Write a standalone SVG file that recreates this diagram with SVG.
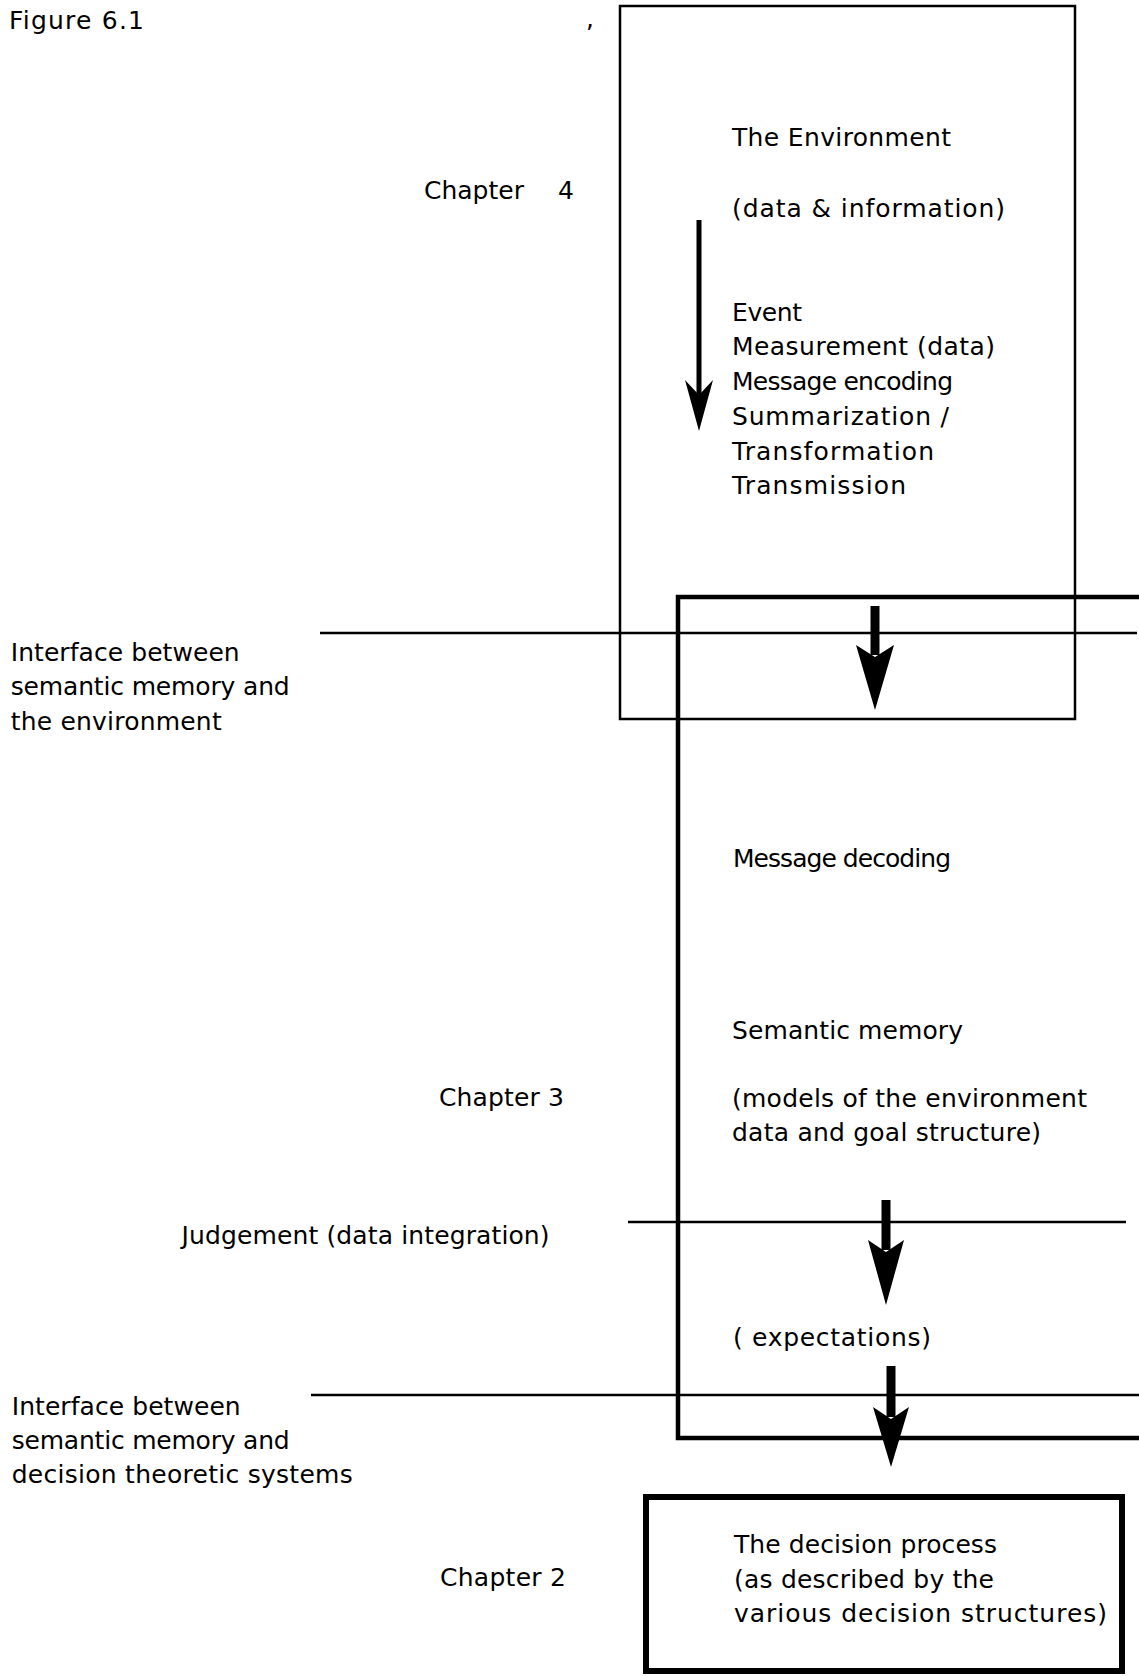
<svg xmlns="http://www.w3.org/2000/svg" width="1139" height="1676" viewBox="0 0 1139 1676">
<style>
  text { font-family: "DejaVu Sans", "Liberation Sans", sans-serif; font-size: 25px; fill: #000; }
  .thin { fill: none; stroke: #000; stroke-width: 2.5; }
  .thick { fill: none; stroke: #000; stroke-width: 4.5; }
  .heavy { fill: none; stroke: #000; stroke-width: 6; }
  .shaft { stroke: #000; }
  .head { fill: #000; stroke: none; }
</style>
<rect width="1139" height="1676" fill="#fff"/>

<g id="labels">
  <text x="9" y="29" textLength="135">Figure 6.1</text>
  <text x="586" y="27">,</text>
  <text x="424" y="199">Chapter<tspan x="558">4</tspan></text>
  <text x="10.7" y="661" textLength="229">Interface between</text>
  <text x="10.7" y="695" textLength="279">semantic memory and</text>
  <text x="10.7" y="730" textLength="211">the environment</text>
  <text x="439" y="1106" textLength="125">Chapter 3</text>
  <text x="181.6" y="1244" textLength="368">Judgement (data integration)</text>
  <text x="11.7" y="1415" textLength="229">Interface between</text>
  <text x="11.7" y="1449" textLength="278">semantic memory and</text>
  <text x="11.7" y="1483" textLength="341">decision theoretic systems</text>
  <text x="440" y="1586" textLength="126">Chapter 2</text>
</g>

<g id="environment">
  <rect class="thin" x="620" y="6" width="455" height="713"/>
  <text x="732" y="146" textLength="219">The Environment</text>
  <text x="732" y="217" textLength="273">(data &amp; information)</text>
  <text x="732" y="321" textLength="70">Event</text>
  <text x="732" y="355" textLength="263">Measurement (data)</text>
  <text x="732" y="390" textLength="221">Message encoding</text>
  <text x="732" y="425" textLength="217">Summarization /</text>
  <text x="732" y="460" textLength="202">Transformation</text>
  <text x="732" y="494" textLength="174">Transmission</text>
</g>

<g id="semantic-memory">
  <path class="thick" d="M1139,597 H678 V1438 H1139"/>
  <text x="733" y="867" textLength="218">Message decoding</text>
  <text x="732" y="1039" textLength="231">Semantic memory</text>
  <text x="732" y="1107" textLength="355">(models of the environment</text>
  <text x="732" y="1141" textLength="309">data and goal structure)</text>
  <text x="733" y="1346" textLength="198">( expectations)</text>
</g>

<g id="decision-process">
  <rect class="heavy" x="646" y="1497" width="476" height="174"/>
  <text x="734" y="1553" textLength="263">The decision process</text>
  <text x="734" y="1588" textLength="260">(as described by the</text>
  <text x="734" y="1622" textLength="373">various  decision  structures)</text>
</g>

<g id="connectors">
  <line class="thin" x1="320" y1="633" x2="1137" y2="633"/>
  <line class="thin" x1="628" y1="1222" x2="1126" y2="1222"/>
  <line class="thin" x1="311" y1="1395" x2="1139" y2="1395"/>

  <line class="shaft" x1="699" y1="220" x2="699" y2="395" stroke-width="5"/>
  <polygon class="head" points="685,380 699,395 713,380 699,431"/>

  <line class="shaft" x1="875" y1="606" x2="875" y2="655" stroke-width="9"/>
  <polygon class="head" points="856,645 875,657 894,645 875,710"/>

  <line class="shaft" x1="886" y1="1200" x2="886" y2="1250" stroke-width="9"/>
  <polygon class="head" points="868,1240 886,1252 904,1240 886,1305"/>

  <line class="shaft" x1="891" y1="1366" x2="891" y2="1417" stroke-width="9"/>
  <polygon class="head" points="873,1407 891,1419 909,1407 891,1467"/>
</g>
</svg>
